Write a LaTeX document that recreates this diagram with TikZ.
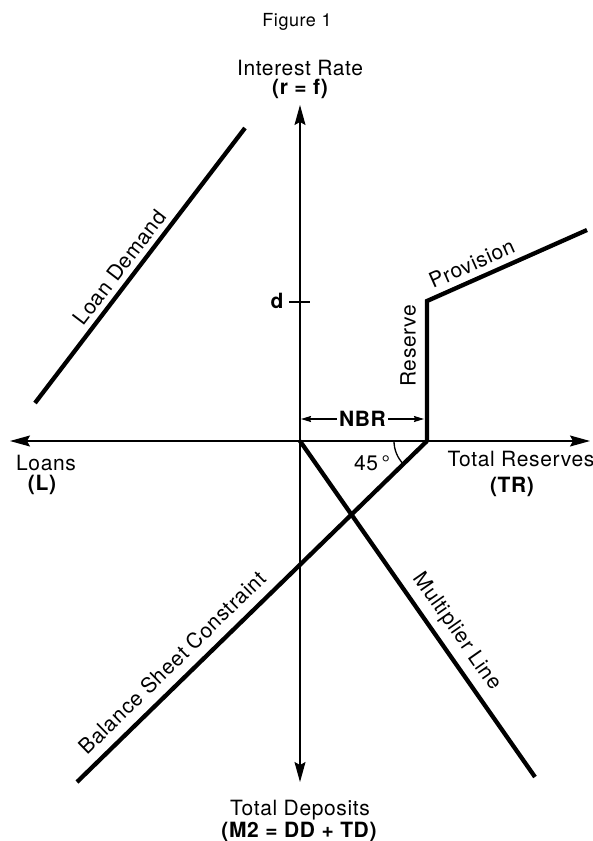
\documentclass[tikz,border=0pt]{standalone}
\usepackage{fontspec}
\setmainfont{TeX Gyre Heros}[LetterSpace=3]
\usetikzlibrary{arrows.meta, angles, quotes, positioning}

\tikzset{
	axis/.style={line width=1.3pt, {Stealth[length=20pt,width=11pt,inset=3pt]}-{Stealth[length=20pt,width=11pt,inset=3pt]}},
	span/.style={line width=1.2pt, {Stealth[length=10pt,width=6pt,inset=1pt]}-{Stealth[length=10pt,width=6pt,inset=1pt]}},
	curve/.style={line width=4.3pt, line join=miter},
	lbl/.style={font=\fontsize{21}{23}\selectfont, inner sep=1pt},
	sym/.style={font=\fontsize{21}{23}\selectfont\bfseries, inner sep=1pt},
	every pic quotes/.style={font=\fontsize{21}{23}\selectfont, inner sep=1pt}
}

\begin{document}
\begin{tikzpicture}[x=1pt, y=-1pt]
	\useasboundingbox (0,0) rectangle (593,841);
	\coordinate (O) at (300,441);
	\coordinate (yTop) at (300,105);
	\coordinate (yBot) at (300,782);
	\coordinate (xLeft) at (10,441);
	\coordinate (xRight) at (590,441);
	\coordinate (R) at (427,441);
	\coordinate (Rtop) at (427,301);
	\coordinate (provEnd) at (587,230);
	\coordinate (ldLow) at (35,403);
	\coordinate (ldHigh) at (245,128);
	\coordinate (bsEnd) at (77,782);
	\coordinate (mlEnd) at (535,777);
	\coordinate (dTickL) at (289,302);
	\coordinate (dTickR) at (310,302);
	\coordinate (nbrL) at (301,419);
	\coordinate (nbrR) at (424,419);

	\node[lbl, font=\fontsize{18}{20}\selectfont] (fig) at (297,22) {Figure 1};
	\node[lbl] (rateName) at (300,68) {Interest Rate};
	\node[sym] (rateSym) at (300,89) {(r = f)};
	\node[lbl] (loanName) at (46,463) {Loans};
	\node[sym] (loanSym) at (42,485) {(L)};
	\node[lbl] (resName) at (521,459) {Total Reserves};
	\node[sym] (resSym) at (512,487) {(TR)};
	\node[lbl] (depName) at (300,810) {Total Deposits};
	\node[sym] (depSym) at (299,832) {(M2 = DD + TD)};
	\node[sym] (dLab) at (277,301) {d};

	\draw[axis] (yBot) -- (yTop);
	\draw[axis] (xLeft) -- (xRight);
	\draw[line width=1.3pt] (dTickL) -- (dTickR);
	\draw[span] (nbrL) -- node[sym, fill=white, inner sep=2pt] (nbrLab) {NBR} (nbrR);

	\draw[curve] (ldLow) -- node[lbl, sloped, above=4pt, pos=0.46] {Loan Demand} (ldHigh);
	\draw[curve] (R) -- node[lbl, sloped, above=8pt, pos=0.68] {Reserve} (Rtop)
		-- node[lbl, sloped, above=5pt, pos=0.32] {Provision} (provEnd);
	\draw[curve] (bsEnd) -- node[lbl, sloped, above=8pt, pos=0.31] {Balance Sheet Constraint} (R);
	\draw[curve] (O) -- node[lbl, sloped, above=6pt, pos=0.6] {Multiplier Line} (mlEnd);

	\draw pic["45\,°", draw, line width=1.3pt, angle radius=33pt, angle eccentricity=1.8]
	{angle = O--R--bsEnd};
\end{tikzpicture}
\end{document}
